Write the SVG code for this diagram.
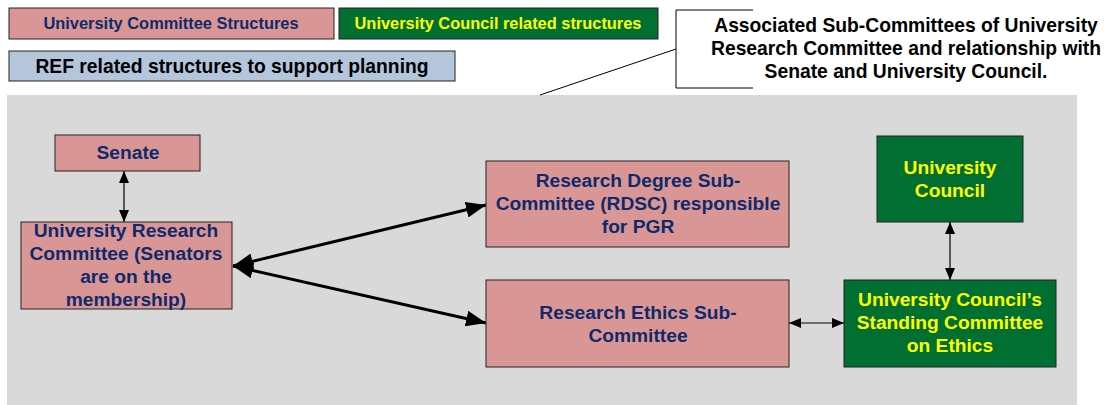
<svg xmlns="http://www.w3.org/2000/svg" width="1108" height="405" viewBox="0 0 1108 405">
<style>
text{font-family:"Liberation Sans",Arial,sans-serif;font-weight:bold;text-anchor:middle}
.uc{fill:#d99694;stroke:#222;stroke-width:1}
.co{fill:#006f31;stroke:#222;stroke-width:1}
.ref{fill:#b4c6dc;stroke:#222;stroke-width:1}
.tn{fill:#0e2a6c;font-size:19.2px}
.ty{fill:#ffff00;font-size:19.2px}
.lg{font-size:16.4px}
.tt{fill:#000;font-size:19.3px}
.thin{stroke:#000;stroke-width:1.2;fill:none;marker-start:url(#as);marker-end:url(#as)}
.thick{stroke:#000;stroke-width:3;fill:none;marker-start:url(#al);marker-end:url(#al)}
</style>
<defs>
<marker id="as" viewBox="0 0 12 10" refX="12" refY="5" markerWidth="12" markerHeight="10" markerUnits="userSpaceOnUse" orient="auto-start-reverse"><path d="M0,0L12,5L0,10z" fill="#000"/></marker>
<marker id="al" viewBox="0 0 20 16" refX="20" refY="8" markerWidth="20" markerHeight="16" markerUnits="userSpaceOnUse" orient="auto-start-reverse"><path d="M0,0L20,8L0,16z" fill="#000"/></marker>
</defs>
<rect x="0" y="0" width="1108" height="405" fill="#fff"/>
<g id="background"><rect x="7" y="95" width="1070" height="310" fill="#d9d9d9"/></g>
<g id="legend-committee"><rect class="uc" x="9" y="8" width="325" height="31"/><text class="tn lg" x="171" y="29">University Committee Structures</text></g>
<g id="legend-council"><rect class="co" x="339" y="8" width="319" height="31"/><text class="ty lg" x="498" y="29">University Council related structures</text></g>
<g id="legend-ref"><rect class="ref" x="9" y="51" width="446" height="30"/><text class="tt" x="232" y="73">REF related structures to support planning</text></g>
<g id="title">
<path d="M753,10H676V88H753" fill="none" stroke="#000" stroke-width="1"/>
<line x1="676" y1="49" x2="540" y2="95" stroke="#000" stroke-width="1"/>
<text class="tt" x="906" y="32">Associated Sub-Committees of University</text>
<text class="tt" x="906" y="55">Research Committee and relationship with</text>
<text class="tt" x="906" y="78">Senate and University Council.</text>
</g>
<g id="connectors">
<line class="thin" x1="124" y1="171" x2="124" y2="222"/>
<line class="thick" x1="233" y1="266" x2="486" y2="205"/>
<line class="thick" x1="233" y1="266" x2="486" y2="323"/>
<line class="thin" x1="789" y1="323" x2="844" y2="323"/>
<line class="thin" x1="950" y1="222" x2="950" y2="280"/>
</g>
<g id="senate"><rect class="uc" x="55" y="135" width="145" height="36"/><text class="tn" x="128" y="159">Senate</text></g>
<g id="urc"><rect class="uc" x="21" y="222" width="211" height="87"/>
<text class="tn" x="126" y="237">University Research</text>
<text class="tn" x="126" y="260">Committee (Senators</text>
<text class="tn" x="126" y="283">are on the</text>
<text class="tn" x="126" y="306">membership)</text></g>
<g id="rdsc"><rect class="uc" x="486" y="161" width="303" height="86"/>
<text class="tn" x="638" y="187">Research Degree Sub-</text>
<text class="tn" x="638" y="210">Committee (RDSC) responsible</text>
<text class="tn" x="638" y="233">for PGR</text></g>
<g id="resc"><rect class="uc" x="486" y="280" width="303" height="87"/>
<text class="tn" x="638" y="319">Research Ethics Sub-</text>
<text class="tn" x="638" y="342">Committee</text></g>
<g id="university-council"><rect class="co" x="877" y="136" width="146" height="86"/>
<text class="ty" x="950" y="174">University</text>
<text class="ty" x="950" y="197">Council</text></g>
<g id="ucsce"><rect class="co" x="844" y="280" width="212" height="87"/>
<text class="ty" x="950" y="306">University Council’s</text>
<text class="ty" x="950" y="329">Standing Committee</text>
<text class="ty" x="950" y="352">on Ethics</text></g>
</svg>
